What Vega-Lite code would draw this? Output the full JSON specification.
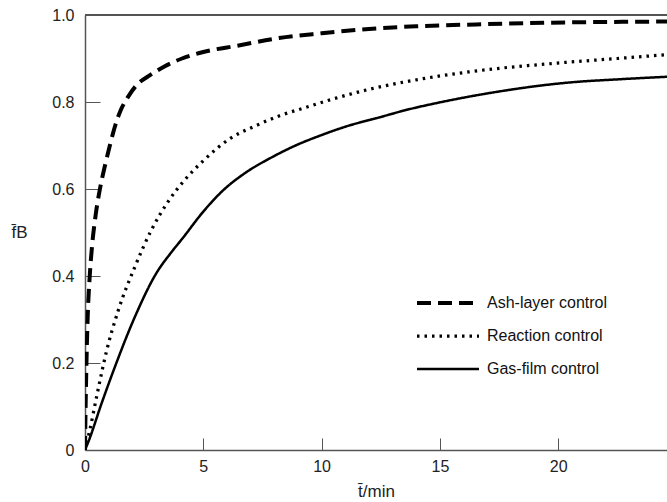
{
  "$schema": "https://vega.github.io/schema/vega-lite/v6.json",
  "width": 582,
  "height": 435,
  "autosize": {"type": "none"},
  "padding": {"left": 85, "top": 15, "right": 0, "bottom": 52},
  "config": {"view": {"stroke": null}, "font": "Liberation Sans"},
  "data": {"values": [
    {"series": "Ash-layer control", "t": 0, "f": 0},
    {"series": "Ash-layer control", "t": 0.02, "f": 0.08},
    {"series": "Ash-layer control", "t": 0.05, "f": 0.17},
    {"series": "Ash-layer control", "t": 0.11, "f": 0.30},
    {"series": "Ash-layer control", "t": 0.2, "f": 0.40},
    {"series": "Ash-layer control", "t": 0.3, "f": 0.47},
    {"series": "Ash-layer control", "t": 0.45, "f": 0.54},
    {"series": "Ash-layer control", "t": 0.63, "f": 0.60},
    {"series": "Ash-layer control", "t": 0.85, "f": 0.655},
    {"series": "Ash-layer control", "t": 1.05, "f": 0.70},
    {"series": "Ash-layer control", "t": 1.3, "f": 0.75},
    {"series": "Ash-layer control", "t": 1.5, "f": 0.78},
    {"series": "Ash-layer control", "t": 1.8, "f": 0.81},
    {"series": "Ash-layer control", "t": 2.2, "f": 0.84},
    {"series": "Ash-layer control", "t": 2.7, "f": 0.86},
    {"series": "Ash-layer control", "t": 3.3, "f": 0.88},
    {"series": "Ash-layer control", "t": 4.1, "f": 0.90},
    {"series": "Ash-layer control", "t": 5, "f": 0.915},
    {"series": "Ash-layer control", "t": 6.5, "f": 0.93},
    {"series": "Ash-layer control", "t": 8.2, "f": 0.947},
    {"series": "Ash-layer control", "t": 10, "f": 0.958},
    {"series": "Ash-layer control", "t": 12, "f": 0.968},
    {"series": "Ash-layer control", "t": 14, "f": 0.974},
    {"series": "Ash-layer control", "t": 17, "f": 0.979},
    {"series": "Ash-layer control", "t": 20.5, "f": 0.983},
    {"series": "Ash-layer control", "t": 24.6, "f": 0.985},
    {"series": "Reaction control", "t": 0, "f": 0},
    {"series": "Reaction control", "t": 0.2, "f": 0.045},
    {"series": "Reaction control", "t": 0.5, "f": 0.125},
    {"series": "Reaction control", "t": 0.9, "f": 0.225},
    {"series": "Reaction control", "t": 1.4, "f": 0.32},
    {"series": "Reaction control", "t": 2.1, "f": 0.42},
    {"series": "Reaction control", "t": 2.8, "f": 0.505},
    {"series": "Reaction control", "t": 3.5, "f": 0.57},
    {"series": "Reaction control", "t": 4.2, "f": 0.62},
    {"series": "Reaction control", "t": 5.0, "f": 0.665},
    {"series": "Reaction control", "t": 6.1, "f": 0.715},
    {"series": "Reaction control", "t": 7.2, "f": 0.745},
    {"series": "Reaction control", "t": 8.2, "f": 0.768},
    {"series": "Reaction control", "t": 9.3, "f": 0.787},
    {"series": "Reaction control", "t": 10.3, "f": 0.804},
    {"series": "Reaction control", "t": 12, "f": 0.829},
    {"series": "Reaction control", "t": 13.5, "f": 0.846},
    {"series": "Reaction control", "t": 14.9, "f": 0.859},
    {"series": "Reaction control", "t": 16.2, "f": 0.869},
    {"series": "Reaction control", "t": 17.6, "f": 0.878},
    {"series": "Reaction control", "t": 19, "f": 0.885},
    {"series": "Reaction control", "t": 20.3, "f": 0.891},
    {"series": "Reaction control", "t": 22.5, "f": 0.900},
    {"series": "Reaction control", "t": 24.6, "f": 0.909},
    {"series": "Gas-film control", "t": 0, "f": 0},
    {"series": "Gas-film control", "t": 0.15, "f": 0.02},
    {"series": "Gas-film control", "t": 0.7, "f": 0.107},
    {"series": "Gas-film control", "t": 1.27, "f": 0.192},
    {"series": "Gas-film control", "t": 2.1, "f": 0.305},
    {"series": "Gas-film control", "t": 3.0, "f": 0.405},
    {"series": "Gas-film control", "t": 3.7, "f": 0.458},
    {"series": "Gas-film control", "t": 4.1, "f": 0.485},
    {"series": "Gas-film control", "t": 5.0, "f": 0.548},
    {"series": "Gas-film control", "t": 5.8, "f": 0.595},
    {"series": "Gas-film control", "t": 6.8, "f": 0.638},
    {"series": "Gas-film control", "t": 7.9, "f": 0.673},
    {"series": "Gas-film control", "t": 8.9, "f": 0.700},
    {"series": "Gas-film control", "t": 10, "f": 0.724},
    {"series": "Gas-film control", "t": 11.05, "f": 0.744},
    {"series": "Gas-film control", "t": 12.4, "f": 0.764},
    {"series": "Gas-film control", "t": 13.6, "f": 0.782},
    {"series": "Gas-film control", "t": 14.9, "f": 0.798},
    {"series": "Gas-film control", "t": 16.2, "f": 0.812},
    {"series": "Gas-film control", "t": 17.6, "f": 0.825},
    {"series": "Gas-film control", "t": 19, "f": 0.836},
    {"series": "Gas-film control", "t": 20.5, "f": 0.845},
    {"series": "Gas-film control", "t": 22.5, "f": 0.852},
    {"series": "Gas-film control", "t": 24.6, "f": 0.858}
  ]},
  "layer": [
    {
      "mark": {"type": "line", "interpolate": "monotone", "color": "black", "clip": true},
      "encoding": {
        "x": {
          "field": "t", "type": "quantitative",
          "scale": {"domain": [0, 24.6], "nice": false},
          "axis": {
            "values": [0, 5, 10, 15, 20], "grid": false,
            "tickSize": -12, "tickColor": "#555", "tickWidth": 1,
            "domainColor": "#555", "domainWidth": 1.5,
            "labelFlush": false, "labelPadding": 20, "labelFontSize": 16, "labelColor": "#222",
            "title": "t̄/min", "titleFontSize": 17, "titleFontWeight": "normal", "titleColor": "#222", "titlePadding": 9
          }
        },
        "y": {
          "field": "f", "type": "quantitative",
          "scale": {"domain": [0, 1], "nice": false},
          "axis": {
            "values": [0, 0.2, 0.4, 0.6, 0.8, 1.0], "grid": false,
            "labelExpr": "datum.value == 0 ? '0' : format(datum.value, '.1f')",
            "tickSize": -15, "tickColor": "#555", "tickWidth": 1,
            "domainColor": "#555", "domainWidth": 1.5,
            "labelFlush": false, "labelPadding": 26, "labelFontSize": 16, "labelColor": "#222",
            "title": "f̄B", "titleAngle": 0, "titleX": -66, "titleY": 217,
            "titleAlign": "center", "titleBaseline": "middle",
            "titleFontSize": 17, "titleFontWeight": "normal", "titleColor": "#222"
          }
        },
        "strokeDash": {
          "field": "series", "type": "nominal",
          "scale": {"domain": ["Ash-layer control", "Reaction control", "Gas-film control"], "range": [[14, 7], [2.5, 5], [1, 0]]},
          "legend": {"orient": "none", "legendX": 330, "legendY": 278, "title": null, "symbolType": "stroke", "symbolSize": 3844, "symbolStrokeColor": "black", "clipHeight": 20, "rowPadding": 13, "labelFontSize": 16, "labelOffset": 6, "labelColor": "#111", "padding": 0}
        },
        "strokeWidth": {
          "field": "series", "type": "nominal",
          "scale": {"domain": ["Ash-layer control", "Reaction control", "Gas-film control"], "range": [4, 2.5, 3.5]},
          "legend": {"orient": "none", "legendX": 330, "legendY": 278, "title": null, "symbolType": "stroke", "symbolSize": 3844, "symbolStrokeColor": "black", "clipHeight": 20, "rowPadding": 13, "labelFontSize": 16, "labelOffset": 6, "labelColor": "#111", "padding": 0}
        }
      }
    },
    {
      "mark": {"type": "rule", "color": "#555", "strokeWidth": 1.5},
      "encoding": {
        "y": {
          "datum": 1, "type": "quantitative",
          "axis": {
            "values": [0, 0.2, 0.4, 0.6, 0.8, 1.0], "grid": false,
            "labelExpr": "datum.value == 0 ? '0' : format(datum.value, '.1f')",
            "tickSize": -15, "tickColor": "#555", "tickWidth": 1,
            "domainColor": "#555", "domainWidth": 1.5,
            "labelFlush": false, "labelPadding": 26, "labelFontSize": 16, "labelColor": "#222",
            "title": "f̄B", "titleAngle": 0, "titleX": -66, "titleY": 217,
            "titleAlign": "center", "titleBaseline": "middle",
            "titleFontSize": 17, "titleFontWeight": "normal", "titleColor": "#222"
          }
        }
      }
    }
  ]
}
